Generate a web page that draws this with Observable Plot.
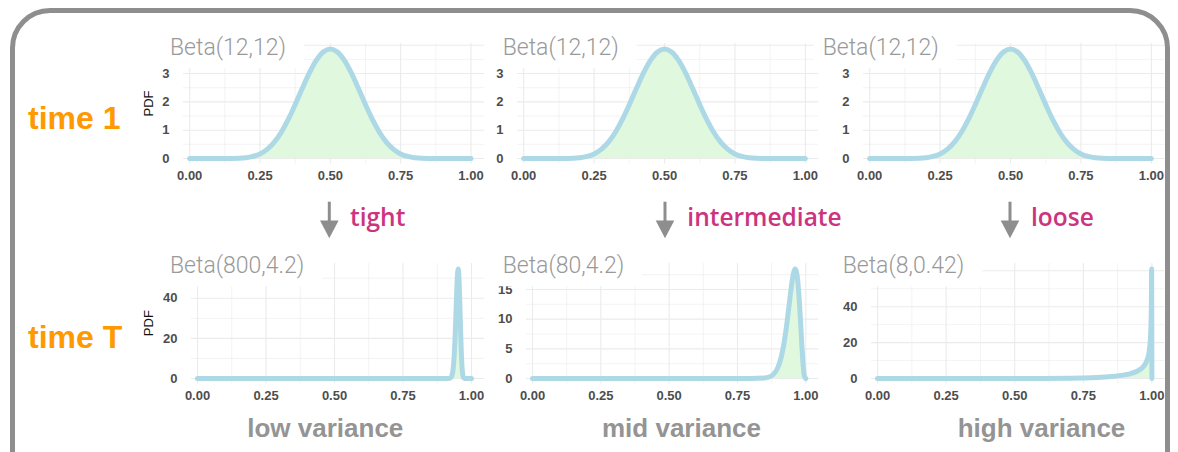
<!DOCTYPE html>
<html>
<head>
<meta charset="utf-8">
<script src="https://cdn.jsdelivr.net/npm/d3@7"></script>
<script src="https://cdn.jsdelivr.net/npm/@observablehq/plot@0.6"></script>
<style>
  body { margin: 0; background: #fff; }
  #fig { position: relative; width: 1178px; height: 452px; overflow: hidden; background: #fff; }
  #frame { position: absolute; left: 10px; top: 8px; width: 1160px; height: 520px;
           border: 5px solid #8e8e8e; border-radius: 40px; box-sizing: border-box; }
  #fig svg.panel { position: absolute; }
  #overlay { position: absolute; left: 0; top: 0; }
</style>
</head>
<body>
<div id="fig"><div id="frame"></div></div>
<script>
// Beta densities sampled along [0, 1]
const time1X   = [0, 0.1, 0.15, 0.2, 0.225, 0.25, 0.275, 0.3, 0.325, 0.35, 0.375, 0.4, 0.425, 0.45, 0.475, 0.5,
                  0.525, 0.55, 0.575, 0.6, 0.625, 0.65, 0.675, 0.7, 0.725, 0.75, 0.775, 0.8, 0.85, 0.9, 1];
const time1Pdf = [0, 0, 0.002, 0.029, 0.074, 0.163, 0.321, 0.568, 0.919, 1.371, 1.902, 2.469, 3.012, 3.463, 3.763, 3.868,
                  3.763, 3.463, 3.012, 2.469, 1.902, 1.371, 0.919, 0.568, 0.321, 0.163, 0.074, 0.029, 0.002, 0, 0];

const lowX   = [0, 0.9, 0.92, 0.925, 0.9275, 0.93, 0.9325, 0.935, 0.9375, 0.94, 0.9425, 0.945, 0.9475, 0.9512,
                0.9525, 0.955, 0.9575, 0.96, 0.9625, 0.965, 0.9675, 0.97, 0.975, 0.98, 1];
const lowPdf = [0, 0, 0.09, 0.50, 1.07, 2.18, 4.2, 7.6, 12.9, 20.3, 29.4, 39.5, 48.5, 54.6,
                53.7, 47.4, 36.8, 24.6, 14.0, 6.55, 2.48, 0.73, 0.03, 0, 0];

const midX   = [0, 0.7, 0.8, 0.85, 0.875, 0.9, 0.91, 0.92, 0.93, 0.94, 0.95, 0.955, 0.961, 0.965, 0.97,
                0.975, 0.98, 0.985, 0.99, 0.995, 1];
const midPdf = [0, 0, 0.002, 0.085, 0.47, 2.11, 3.61, 5.87, 8.98, 12.78, 16.46, 17.78, 18.45, 18.12, 16.64,
                13.94, 10.23, 6.09, 2.49, 0.40, 0];

const highX   = [0, 0.3, 0.4, 0.5, 0.6, 0.7, 0.75, 0.8, 0.85, 0.9, 0.925, 0.95, 0.97, 0.98, 0.99, 0.995, 0.998, 0.999, 1];
const highPdf = [0, 0.0003, 0.0025, 0.013, 0.053, 0.185, 0.333, 0.596, 1.077, 2.033, 2.91, 4.43, 6.89, 9.37,
                 15.06, 23.3, 40.5, 61.0, 0];

// Axis ticks: gridlines at every break, labels where they are not under a panel title
const xTicks      = [0, 0.25, 0.5, 0.75, 1];
const time1Grid   = [0, 1, 2, 3, 4];
const time1Labels = [0, 1, 2, 3];
const lowGrid     = [0, 20, 40];
const lowLabels   = [0, 20, 40];
const midGrid     = [0, 5, 10, 15];
const midLabels   = [0, 5, 10, 15];
const highGrid    = [0, 20, 40, 60];
const highLabels  = [0, 20, 40];

// Text
const panelTitles = ["Beta(12,12)", "Beta(12,12)", "Beta(12,12)", "Beta(800,4.2)", "Beta(80,4.2)", "Beta(8,0.42)"];
const rowLabels   = ["time 1", "time T"];
const transitions = ["tight", "intermediate", "loose"];
const varianceLabels = ["low variance", "mid variance", "high variance"];
const yLabel = "PDF";

// ---- layout ----
const PANEL_H = 120.5;
const rowTop = [43.25, 262.9];
const panels = [
  {xs: time1X, ys: time1Pdf, grid: time1Grid, labels: time1Labels, x0: 189,   x1: 470.3,  row: 0, titleX: 170,   pdf: true},
  {xs: time1X, ys: time1Pdf, grid: time1Grid, labels: time1Labels, x0: 523.3, x1: 805,    row: 0, titleX: 502.7},
  {xs: time1X, ys: time1Pdf, grid: time1Grid, labels: time1Labels, x0: 869.3, x1: 1151,   row: 0, titleX: 822.7},
  {xs: lowX,   ys: lowPdf,   grid: lowGrid,   labels: lowLabels,   x0: 196.7, x1: 470.7,  row: 1, titleX: 170,   pdf: true},
  {xs: midX,   ys: midPdf,   grid: midGrid,   labels: midLabels,   x0: 531.7, x1: 805,    row: 1, titleX: 502.7},
  {xs: highX,  ys: highPdf,  grid: highGrid,  labels: highLabels,  x0: 877.3, x1: 1151.7, row: 1, titleX: 842.7}
];
const titleBaseline = [55, 273.3];

const fig = document.getElementById("fig");
const gridColor = "#ebebeb";
const mL = 44, mR = 4, mT = 8, mB = 28;
const xLo = -0.022, xHi = 1.047;
const tickStyle = {fontSize: 13, fontWeight: 700, fill: "#4d4d4d", fontFamily: "'Liberation Sans', Arial, sans-serif"};

panels.forEach((p) => {
  const k = p.x1 - p.x0;
  const left = p.x0 + xLo * k, right = p.x0 + xHi * k;
  const top = rowTop[p.row];
  const data = p.xs.map((x, i) => ({x, y: p.ys[i]}));
  const yMax = d3.max(p.ys);
  const step = p.grid[1] - p.grid[0];
  const yMinor = p.grid.map(t => t + step / 2).filter(v => v < yMax * 1.05);
  const xMinor = xTicks.slice(1).map(t => t - 0.125);
  const curve = "monotone-x";
  const svg = Plot.plot({
    width: right - left + mL + mR,
    height: PANEL_H + mT + mB,
    marginLeft: mL, marginRight: mR, marginTop: mT, marginBottom: mB,
    style: {background: "transparent", overflow: "visible"},
    x: {domain: [xLo, xHi], axis: null},
    y: {domain: [-0.05 * yMax, 1.05 * yMax], axis: null},
    marks: [
      Plot.ruleX(xMinor, {stroke: gridColor, strokeWidth: 0.6}),
      Plot.ruleY(yMinor, {stroke: gridColor, strokeWidth: 0.6}),
      Plot.ruleX(xTicks, {stroke: gridColor, strokeWidth: 1.1}),
      Plot.ruleY(p.grid, {stroke: gridColor, strokeWidth: 1.1}),
      Plot.areaY(data, {x: "x", y: "y", fill: "#e0f8de", curve}),
      Plot.line(data, {x: "x", y: "y", stroke: "#add8e6", strokeWidth: 5, strokeLinecap: "round", strokeLinejoin: "round", curve}),
      // tick labels
      Plot.text(xTicks, {x: d => d, text: d => d3.format(".2f")(d), frameAnchor: "bottom", lineAnchor: "top", dy: 7, ...tickStyle}),
      Plot.text(p.labels, {y: d => d, text: d => String(d), frameAnchor: "left", textAnchor: "end", dx: -14, ...tickStyle})
    ]
  });
  svg.classList.add("panel");
  svg.style.left = (left - mL) + "px";
  svg.style.top = (top - mT) + "px";
  fig.appendChild(svg);
});

// ---- annotations ----
const ov = d3.select(fig).append("svg").attr("id", "overlay").attr("width", 1178).attr("height", 452);

// panel titles sit on a white label box covering the top-left corner of each panel
panels.forEach((p, i) => {
  const base = titleBaseline[p.row];
  const g = ov.append("g");
  const rect = g.append("rect").attr("fill", "#fff");
  const t = g.append("text")
    .attr("x", p.titleX).attr("y", base)
    .attr("font-family", "Roboto, 'Liberation Sans', sans-serif").attr("font-weight", 300)
    .attr("font-size", 23).attr("fill", "#999")
    .text(panelTitles[i]);
  const bb = t.node().getBBox();
  rect.attr("x", p.titleX - 9).attr("y", base - 40).attr("width", bb.width + 27).attr("height", 53);
  if (p.pdf) {
    const cy = rowTop[p.row] + PANEL_H / 2;
    ov.append("text")
      .attr("transform", `translate(153,${cy}) rotate(-90)`)
      .attr("text-anchor", "middle")
      .attr("font-family", "'Liberation Sans', Arial, sans-serif").attr("font-size", 13).attr("fill", "#111")
      .text(yLabel);
  }
});

// row labels
[129.3, 348.3].forEach((y, i) => {
  ov.append("text").attr("x", 28).attr("y", y)
    .attr("font-family", "'Liberation Sans', Arial, sans-serif").attr("font-weight", "bold")
    .attr("font-size", 32).attr("fill", "#ff9900")
    .text(rowLabels[i]);
});

// transition arrows and labels
[[329.3, 350], [665, 687.3], [1010, 1031]].forEach(([ax, tx], i) => {
  ov.append("rect").attr("x", ax - 1.5).attr("y", 201.7).attr("width", 3).attr("height", 20).attr("fill", "#8e8e8e");
  ov.append("path").attr("d", `M${ax - 9.3},220.5 L${ax + 9.3},220.5 L${ax},238.3 Z`).attr("fill", "#8e8e8e");
  ov.append("text").attr("x", tx).attr("y", 226)
    .attr("font-family", "'Open Sans', 'Noto Sans', sans-serif").attr("font-weight", 600)
    .attr("font-size", 24.5).attr("fill", "#cc3380")
    .text(transitions[i]);
});

// variance labels
[325.3, 681.5, 1041.5].forEach((x, i) => {
  ov.append("text").attr("x", x).attr("y", 437.3).attr("text-anchor", "middle")
    .attr("font-family", "'Liberation Sans', Arial, sans-serif").attr("font-weight", "bold")
    .attr("font-size", 26).attr("fill", "#949494")
    .text(varianceLabels[i]);
});
</script>
</body>
</html>
